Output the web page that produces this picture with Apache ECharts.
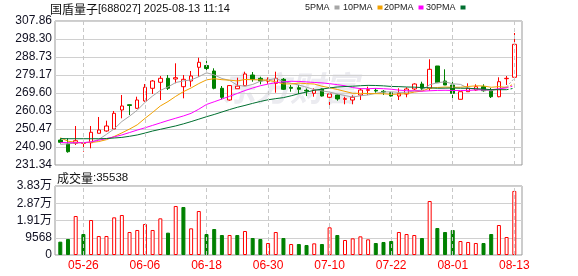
<!DOCTYPE html>
<html><head><meta charset="utf-8">
<script src="https://cdn.jsdelivr.net/npm/echarts/dist/echarts.min.js"></script>
<style>html,body{margin:0;padding:0;background:#fff}#c{width:578px;height:276px}</style>
</head><body><div id="c"></div>
<script>
const stockName = '国盾量子';
const stockCode = '688027';
const stamp = '2025-08-13 11:14';
const volumeTitle = '成交量';

const dates = ['05-21','05-22','05-23','05-26','05-27','05-28','05-29','05-30','06-03','06-04',
'06-05','06-06','06-09','06-10','06-11','06-12','06-13','06-16','06-17','06-18',
'06-19','06-20','06-23','06-24','06-25','06-26','06-27','06-30','07-01','07-02',
'07-03','07-04','07-07','07-08','07-09','07-10','07-11','07-14','07-15','07-16',
'07-17','07-18','07-21','07-22','07-23','07-24','07-25','07-28','07-29','07-30',
'07-31','08-01','08-04','08-05','08-06','08-07','08-08','08-11','08-12','08-13'];

const opens = [244.62,242.50,242.87,242.87,243.19,248.19,249.41,250.47,260.57,263.38,
261.47,265.35,272.10,275.29,277.41,277.04,272.95,275.98,283.26,284.20,
281.29,272.10,265.88,271.88,273.48,279.16,277.41,275.90,274.75,276.88,
272.63,272.41,271.03,269.44,271.73,267.32,268.54,266.25,265.88,268.54,
271.03,271.03,270.50,269.76,268.01,269.07,271.73,274.38,272.10,283.95,
275.98,273.85,266.25,270.29,271.19,272.95,271.19,267.63,277.20,277.94];

const closes = [243.40,238.41,244.25,243.19,248.72,249.94,252.06,258.81,262.69,262.96,
265.88,272.63,275.98,277.41,272.10,277.73,276.88,278.63,285.91,282.60,
272.10,267.32,273.55,273.25,279.70,276.88,275.98,276.60,277.41,271.57,
272.10,271.57,270.66,271.19,268.01,269.07,266.41,266.57,267.32,271.19,
271.35,270.66,270.13,268.01,269.44,271.73,274.38,272.10,282.19,275.07,
273.85,269.44,270.29,272.10,272.95,270.82,267.63,275.61,277.41,295.48];

const highs = [245.42,245.53,252.06,243.56,252.06,256.85,254.88,260.03,268.54,263.49,
267.63,274.38,276.51,278.63,279.16,285.38,279.16,281.29,288.36,286.76,
282.73,273.32,273.69,277.73,280.92,280.76,278.26,277.90,280.92,277.57,
273.85,273.85,271.99,272.10,271.99,269.07,268.80,267.63,268.38,272.10,
272.95,272.10,271.19,270.13,272.10,272.63,274.75,275.61,287.51,283.95,
282.19,275.61,270.29,274.75,274.22,274.22,272.26,277.94,278.63,301.48];

const lows = [242.76,237.87,241.97,238.41,240.21,248.19,249.03,249.94,256.15,257.91,
261.10,264.97,269.07,265.88,271.19,274.75,266.78,272.95,278.26,280.07,
271.57,266.25,265.51,271.88,273.32,275.61,274.22,274.50,269.76,271.19,
270.29,269.07,268.01,267.63,267.74,262.85,265.51,263.59,263.59,265.88,
268.54,269.76,268.54,267.74,265.88,267.32,271.19,271.19,270.82,275.07,
273.85,265.51,266.25,270.29,270.82,270.29,266.94,267.32,273.85,277.94];

const volumes = [7394,8875,21632,11648,19413,10539,10539,20890,22187,12757,
13867,17195,13867,20337,12388,27179,26624,14791,24405,11648,
14421,11093,11093,11093,13312,9429,8875,6656,12757,9429,
6101,6101,5547,6471,6101,15346,11093,8320,9244,10354,
8690,6656,7211,7765,12757,11648,11093,9429,29952,14976,
12757,13867,7765,7211,6656,6656,11648,16640,9984,35538];

const ma5 = [242.30,242.60,243.00,243.20,243.59,244.90,247.63,250.54,254.44,257.29,
260.48,264.59,268.03,270.97,272.80,275.17,276.02,276.55,278.25,280.35,
279.22,277.31,276.30,273.76,273.18,274.14,275.87,276.48,277.31,275.69,
274.73,273.85,272.66,271.42,270.71,270.10,269.07,268.25,267.48,268.11,
268.57,269.42,270.13,270.27,269.92,269.99,270.74,271.13,273.97,275.09,
275.52,274.53,274.17,272.15,271.73,271.12,270.76,271.82,272.88,277.39];

const ma10 = [245.80,244.00,243.40,243.20,243.30,243.80,244.80,246.50,248.40,250.44,
252.69,256.11,259.29,262.71,265.05,267.83,270.31,272.29,274.61,276.58,
277.20,276.67,276.42,276.01,276.77,276.68,276.59,276.39,275.54,274.44,
274.44,274.86,274.57,274.37,273.20,272.42,271.46,270.46,269.45,269.41,
269.33,269.24,269.19,268.87,269.02,269.28,270.08,270.63,272.12,272.51,
272.76,272.63,272.65,273.06,273.41,273.32,272.64,273.00,272.52,274.56];

const ma20 = [243.30,243.20,243.20,243.20,243.60,244.50,245.40,246.30,247.30,248.60,
249.90,251.10,252.40,253.70,255.00,256.20,257.40,258.80,261.00,263.51,
264.94,266.39,267.85,269.36,270.91,272.25,273.45,274.34,275.08,275.51,
275.82,275.76,275.50,275.19,274.98,274.55,274.03,273.42,272.49,271.92,
271.89,272.05,271.88,271.62,271.11,270.85,270.77,270.54,270.78,270.96,
271.05,270.94,270.92,270.97,271.21,271.30,271.36,271.81,272.32,273.53];

const ma30 = [245.40,245.30,245.30,245.30,245.30,245.30,245.40,245.70,246.00,246.60,
247.30,248.30,249.40,250.30,251.20,252.10,253.20,254.40,255.70,257.00,
258.20,259.50,260.80,262.00,263.00,264.10,265.10,266.00,266.60,267.15,
268.11,269.21,270.09,271.03,271.67,272.31,272.79,273.04,273.20,273.47,
273.66,273.59,273.40,273.08,272.99,272.79,272.71,272.49,272.37,272.12,
272.18,272.25,272.14,272.10,271.87,271.67,271.39,271.36,271.36,272.16];

const maNames = ['5PMA','10PMA','20PMA','30PMA'];
const priceTickLabels = ['231.34','240.90','250.47','260.03','269.60','279.17','288.73','298.30','307.86'];
const volumeTickLabels = ['0','9568','1.91万','2.87万','3.83万'];
const volumeAxisMax = 38272;
const xTickLabels = ['05-26','06-06','06-18','06-30','07-10','07-22','08-01','08-13'];

// ---------- styling / layout ----------
const FONT = "'Liberation Sans','Noto Sans CJK SC',sans-serif";
const CJK = "'Noto Sans CJK SC',sans-serif";
const UP = '#ff0000', DOWN = '#008000';
const maColors = ['#a6a6a6','#f2a100','#ff00ff','#006f30'];
const maData = [ma5, ma10, ma20, ma30];
const last = dates.length - 1;
const legendLeft = [305, 343, 384, 426];
const labelColor = '#111122';
const gridLineColor = '#d0d0d0';

const dashLines = {
  silent: true, symbol: ['none','none'], label: {show: false},
  lineStyle: {type: [4,3], color: '#c8c8c8', width: 1},
  emphasis: {disabled: true},
  data: xTickLabels.map(d => ({xAxis: d}))
};
const empty = dates.map(() => '-');

const series = [];
series.push({type: 'line', xAxisIndex: 1, yAxisIndex: 1, data: empty, z: 1, silent: true, markLine: dashLines});
series.push({type: 'line', xAxisIndex: 3, yAxisIndex: 3, data: empty, z: 1, silent: true, markLine: dashLines});
series.push({
  type: 'candlestick', xAxisIndex: 1, yAxisIndex: 1, z: 2, barWidth: 4,
  data: dates.map((d, i) => [opens[i], closes[i], lows[i], highs[i]]),
  itemStyle: {color: '#ffffff', color0: DOWN, borderColor: UP, borderColor0: DOWN, borderWidth: 1}
});
maData.forEach((arr, k) => {
  series.push({
    name: maNames[k], type: 'line', xAxisIndex: 1, yAxisIndex: 1, z: 3,
    data: arr.map((v, i) => i < last ? v : '-'),
    symbol: 'none', showSymbol: false, lineStyle: {width: 1, color: maColors[k]},
    itemStyle: {color: maColors[k]}
  });
  series.push({
    name: maNames[k], type: 'line', xAxisIndex: 1, yAxisIndex: 1, z: 3,
    data: arr.map((v, i) => i >= last - 1 ? v : '-'),
    symbol: 'none', showSymbol: false, lineStyle: {width: 1, color: maColors[k], type: [2,2]},
    itemStyle: {color: maColors[k]}
  });
});
series.push({
  type: 'bar', xAxisIndex: 3, yAxisIndex: 3, z: 2, barWidth: 4,
  data: volumes.map((v, i) => {
    const up = i === 0 ? closes[i] >= opens[i] : closes[i] >= closes[i - 1];
    return {value: v, itemStyle: up ? {color: '#ffffff', borderColor: UP, borderWidth: 1}
                                    : {color: DOWN, borderColor: DOWN, borderWidth: 1}};
  })
});

const frameY = (labels) => ({
  type: 'category', data: labels, boundaryGap: false,
  axisLine: {show: false}, axisTick: {show: false},
  axisLabel: {interval: 0, fontSize: 12, color: labelColor, margin: 3, fontFamily: FONT},
  splitLine: {show: true, interval: 0, lineStyle: {color: gridLineColor, width: 1}}
});

const option = {
  animation: false,
  backgroundColor: '#ffffff',
  title: [
    {left: 50, top: 3, padding: 0,
     text: '{a|' + stockName + '}{b|[' + stockCode + '] ' + stamp + '}',
     textStyle: {fontWeight: 'normal', rich: {
       a: {fontSize: 12, fontFamily: CJK, color: '#111', lineHeight: 12, fontWeight: 'normal'},
       b: {fontSize: 11, fontFamily: FONT, color: '#111', lineHeight: 12, fontWeight: 'normal'}}}},
    {left: 57, top: 172, padding: 0,
     text: '{a|' + volumeTitle + '}{b|:' + volumes[last] + '}',
     textStyle: {fontWeight: 'normal', rich: {
       a: {fontSize: 12, fontFamily: CJK, color: '#111', lineHeight: 12, fontWeight: 'normal'},
       b: {fontSize: 11.5, fontFamily: FONT, color: '#111', lineHeight: 12, fontWeight: 'normal'}}}}
  ],
  legend: maNames.map((n, k) => ({
    data: [{name: n, icon: 'rect'}], left: legendLeft[k], top: 3, padding: 0,
    itemWidth: 5, itemHeight: 4, align: 'right', itemGap: 0, selectedMode: false,
    textStyle: {fontSize: 9, color: '#222', fontFamily: FONT}
  })),
  graphic: [{type: 'text', left: 222, top: 71, z: -1, silent: true,
    style: {text: '东方财富', font: 'bold italic 34px "Noto Sans CJK SC"', fill: '#ebebf0'}}],
  grid: [
    {left: 55, right: 56, top: 21, height: 144, show: true, borderColor: '#999', borderWidth: 1, outerBoundsMode: 'none', containLabel: false},
    {left: 56.45, right: 59.85, top: 21, height: 144, outerBoundsMode: 'none', containLabel: false},
    {left: 55, right: 56, top: 186, height: 69, show: true, borderColor: '#999', borderWidth: 1, outerBoundsMode: 'none', containLabel: false},
    {left: 56.45, right: 59.85, top: 186, height: 69, outerBoundsMode: 'none', containLabel: false}
  ],
  xAxis: [
    {gridIndex: 0, type: 'value', show: false, min: 0, max: 1},
    {gridIndex: 1, type: 'category', data: dates, boundaryGap: true, show: false},
    {gridIndex: 2, type: 'value', show: false, min: 0, max: 1},
    {gridIndex: 3, type: 'category', data: dates, boundaryGap: true,
     axisLine: {show: false}, axisTick: {show: false}, splitLine: {show: false},
     axisLabel: {interval: (i, v) => xTickLabels.includes(v), color: UP, fontSize: 12, margin: 5, fontFamily: FONT}}
  ],
  yAxis: [
    Object.assign({gridIndex: 0}, frameY(priceTickLabels)),
    {gridIndex: 1, type: 'value', show: false,
     min: parseFloat(priceTickLabels[0]), max: parseFloat(priceTickLabels[priceTickLabels.length - 1])},
    Object.assign({gridIndex: 2}, frameY(volumeTickLabels)),
    {gridIndex: 3, type: 'value', show: false, min: 0, max: volumeAxisMax}
  ],
  series: series
};

const chart = echarts.init(document.getElementById('c'), null, {renderer: 'canvas'});
chart.setOption(option);
</script></body></html>
